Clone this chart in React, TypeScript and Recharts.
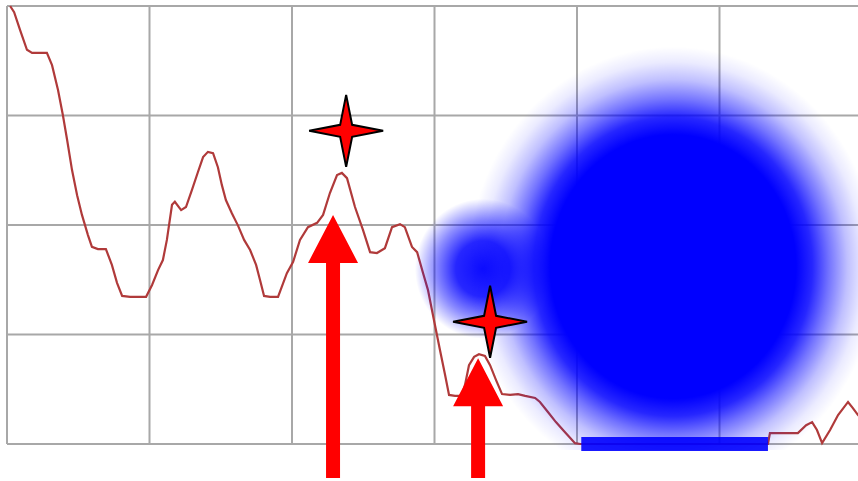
import React from 'react';
import { ComposedChart, Line, Scatter, XAxis, YAxis, CartesianGrid } from 'recharts';

// Line series (x in 0..300, y in 0..100)
const lineX = [1.1, 2.5, 4.6, 7.0, 8.8, 14.0, 15.8, 17.9, 19.6, 21.1, 22.8, 24.6, 26.3, 28.4, 29.8, 31.9, 34.7, 36.8, 38.6, 40.4, 43.2, 48.8, 50.9, 53.0, 54.7, 56.1, 57.9, 58.9, 61.1, 62.8, 64.9, 67.0, 68.8, 70.5, 72.3, 74.0, 75.4, 76.8, 78.9, 81.1, 83.2, 85.3, 87.4, 88.8, 90.2, 92.3, 95.1, 98.2, 100.4, 102.8, 105.6, 108.8, 110.9, 113.3, 115.8, 117.5, 119.3, 122.1, 124.9, 127.4, 129.8, 132.6, 135.1, 137.9, 139.6, 142.1, 143.9, 146.0, 147.7, 149.8, 151.9, 153.7, 155.1, 157.2, 159.6, 160.7, 162.1, 163.9, 165.6, 167.7, 169.5, 171.6, 173.7, 176.5, 179.3, 181.8, 185.3, 187.0, 189.8, 192.6, 195.8, 199.3, 201.1, 230.0, 267.0, 267.7, 277.5, 280.4, 282.5, 284.2, 286.0, 288.8, 291.6, 295.1, 296.8, 298.6, 300];
const lineY = [100, 98.6, 94.5, 90.0, 89.3, 89.3, 86.5, 80.8, 75.1, 69.4, 62.6, 56.8, 52.3, 47.7, 45.0, 44.5, 44.5, 40.9, 36.8, 33.8, 33.6, 33.6, 36.3, 39.7, 42.0, 46.6, 54.6, 55.3, 53.4, 54.1, 58.0, 62.1, 65.5, 66.7, 66.4, 63.2, 59.1, 55.7, 52.7, 49.8, 46.6, 44.3, 40.9, 37.4, 33.8, 33.6, 33.6, 39.0, 41.6, 46.6, 49.5, 50.5, 52.3, 57.3, 61.4, 61.9, 60.7, 54.1, 48.9, 43.8, 43.6, 44.7, 49.5, 50.2, 49.5, 45.0, 43.8, 39.0, 35.2, 28.3, 21.5, 15.8, 11.2, 11.0, 11.0, 13.5, 18.0, 19.9, 20.5, 20.1, 18.0, 14.6, 11.4, 11.2, 11.4, 11.0, 10.5, 9.6, 7.3, 5.0, 2.7, 0.2, 0, 0, 0, 2.5, 2.5, 4.3, 5.0, 3.2, 0.2, 3.2, 6.6, 9.6, 8.2, 6.6, 5.9];

const xTicks = [0, 50, 100, 150, 200, 250, 300];
const yTicks = [0, 25, 50, 75, 100];

const starPoints = [
  { x: 119.0, y: 71.5 },
  { x: 169.5, y: 27.9 },
];
const arrowTips = [
  { x: 114.4, y: 52.3 },
  { x: 165.3, y: 19.6 },
];
const mainBlob = [{ x: 233.7, y: 40.5 }];
const sideBlob = [{ x: 167.0, y: 40.0 }];
const blueBand = [
  { x: 201.5, y: 0 },
  { x: 267.0, y: 0 },
];

const lineData = lineX.map((x, i) => ({ x, y: lineY[i] }));

const W = 870;
const H = 481;
const MARGIN = { top: 6, right: 8, left: 7, bottom: 37 };
const PLOT_BOTTOM = H - MARGIN.bottom; // 444
const CLIP_BOTTOM = PLOT_BOTTOM + 6;

const BlobDefs = () => (
  <defs>
    <radialGradient id="mainGrad" cx="50%" cy="50%" r="50%">
      <stop offset="0" stopColor="#0000ff" stopOpacity={1} />
      <stop offset="0.6" stopColor="#0000ff" stopOpacity={1} />
      <stop offset="0.68" stopColor="#0000ff" stopOpacity={0.85} />
      <stop offset="0.76" stopColor="#0000ff" stopOpacity={0.55} />
      <stop offset="0.85" stopColor="#0000ff" stopOpacity={0.25} />
      <stop offset="0.93" stopColor="#0000ff" stopOpacity={0.08} />
      <stop offset="1" stopColor="#0000ff" stopOpacity={0} />
    </radialGradient>
    <radialGradient id="sideGrad" cx="50%" cy="50%" r="50%">
      <stop offset="0" stopColor="#0000ff" stopOpacity={0.95} />
      <stop offset="0.4" stopColor="#0000ff" stopOpacity={0.85} />
      <stop offset="0.7" stopColor="#0000ff" stopOpacity={0.45} />
      <stop offset="1" stopColor="#0000ff" stopOpacity={0} />
    </radialGradient>
    <clipPath id="blobClip">
      <rect x={0} y={0} width={W} height={CLIP_BOTTOM} />
    </clipPath>
  </defs>
);

const MainBlobShape = (props: any) => {
  const { cx, cy } = props;
  return (
    <g>
      <BlobDefs />
      <g clipPath="url(#blobClip)">
        <ellipse cx={cx} cy={cy} rx={205} ry={220} fill="url(#mainGrad)" />
      </g>
    </g>
  );
};

const SideBlobShape = (props: any) => {
  const { cx, cy } = props;
  return (
    <g clipPath="url(#blobClip)">
      <ellipse cx={cx} cy={cy} rx={68} ry={70} fill="url(#sideGrad)" />
    </g>
  );
};

const StarShape = (props: any) => {
  const { cx, cy } = props;
  const a = 37;
  const b = 36;
  const c = 6;
  const d = `M${cx - a},${cy} L${cx - c},${cy - c} L${cx},${cy - b} L${cx + c},${cy - c} L${cx + a},${cy} L${cx + c},${cy + c} L${cx},${cy + b} L${cx - c},${cy + c} Z`;
  return <path d={d} fill="#ff0000" stroke="#000" strokeWidth={2} strokeLinejoin="miter" />;
};

const ArrowShape = (props: any) => {
  const { cx, cy } = props;
  const headH = 48;
  const headHalf = 25;
  const shaftHalf = 7;
  const tail = PLOT_BOTTOM + 34;
  const d = `M${cx},${cy} L${cx + headHalf},${cy + headH} L${cx + shaftHalf},${cy + headH} L${cx + shaftHalf},${tail} L${cx - shaftHalf},${tail} L${cx - shaftHalf},${cy + headH} L${cx - headHalf},${cy + headH} Z`;
  return <path d={d} fill="#ff0000" />;
};

const Empty = () => <g />;

export default function App() {
  return (
    <div style={{ position: 'absolute', left: 0, top: 0, width: 858, height: 481, overflow: 'hidden', background: '#fff' }}>
      <ComposedChart width={W} height={H} margin={MARGIN}>
        <CartesianGrid stroke="#a8a8a8" strokeWidth={2} />
        <XAxis
          type="number"
          dataKey="x"
          domain={[0, 300]}
          ticks={xTicks}
          height={0}
          tick={() => null}
          tickLine={{ stroke: '#bbbbbb', strokeWidth: 2 }}
          tickSize={6}
          axisLine={{ stroke: '#000', strokeWidth: 2.5 }}
        />
        <YAxis
          type="number"
          dataKey="y"
          domain={[0, 100]}
          ticks={yTicks}
          width={0}
          tick={() => null}
          tickLine={false}
          axisLine={{ stroke: '#000', strokeWidth: 2.5 }}
        />
        <Line
          data={lineData}
          dataKey="y"
          type="linear"
          stroke="#b03a3a"
          strokeWidth={2.2}
          dot={false}
          activeDot={false}
          isAnimationActive={false}
        />
        <Scatter data={sideBlob} shape={SideBlobShape} isAnimationActive={false} />
        <Scatter data={mainBlob} shape={MainBlobShape} isAnimationActive={false} />
        <Scatter
          data={blueBand}
          shape={Empty}
          line={{ stroke: '#0000ff', strokeWidth: 14, strokeOpacity: 0.9 }}
          lineType="joint"
          isAnimationActive={false}
        />
        <Scatter data={starPoints} shape={StarShape} isAnimationActive={false} />
        <Scatter data={arrowTips} shape={ArrowShape} isAnimationActive={false} />
      </ComposedChart>
    </div>
  );
}
